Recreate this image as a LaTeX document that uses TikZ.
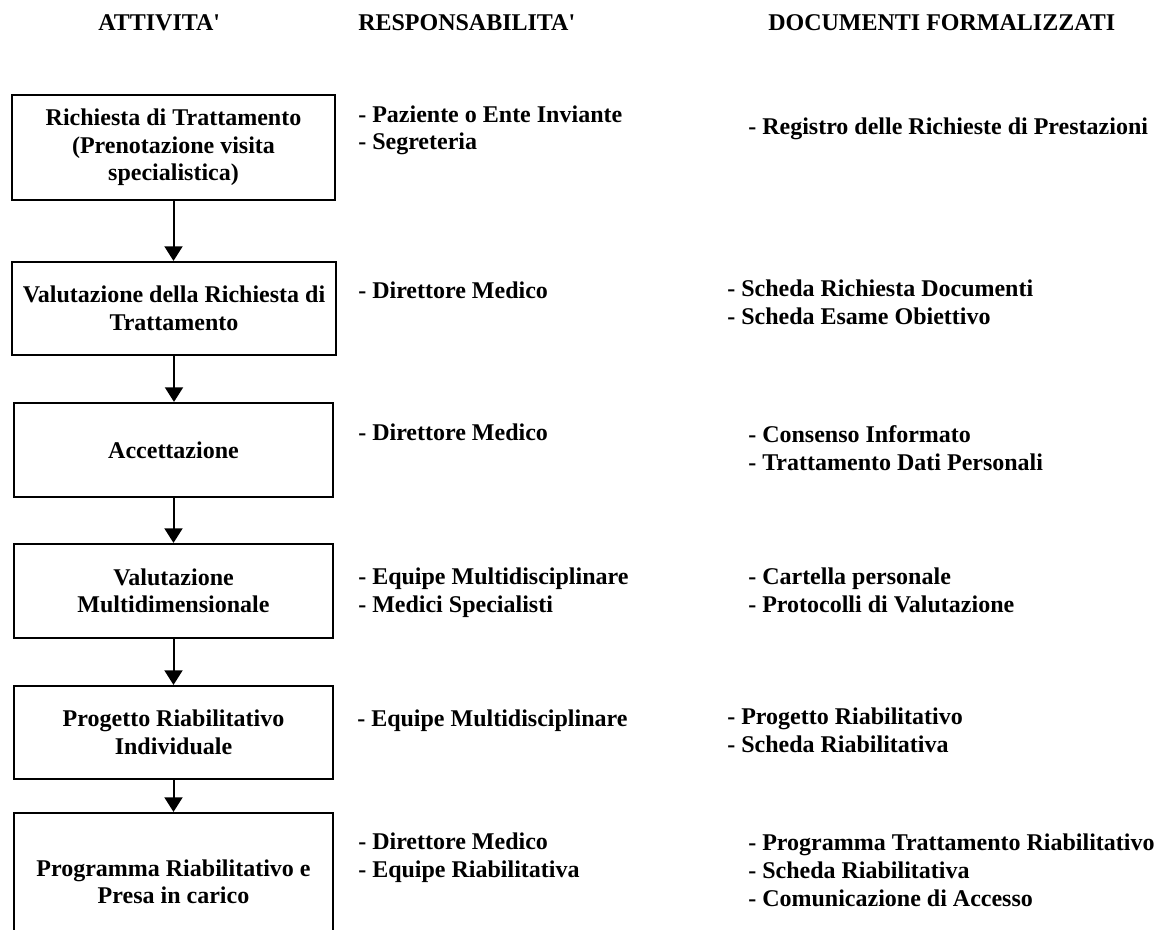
\documentclass[tikz,border=0pt]{standalone}
\usepackage{fontspec}
\setmainfont{Liberation Serif}
\usetikzlibrary{arrows.meta}
\tikzset{
  stepbox/.style={draw, line width=1.6pt, align=center, inner sep=0pt,
    font=\fontsize{18}{20.6}\selectfont\bfseries},
  item/.style={anchor=base west, inner sep=0pt,
    font=\fontsize{18}{21}\selectfont\bfseries},
  flow/.style={line width=1.5pt, -{Triangle[length=11pt,width=13.5pt]}}
}
\begin{document}
\begin{tikzpicture}[x=0.75pt,y=-0.75pt]
\useasboundingbox (0,0) rectangle (1157,930);
\clip (0,0) rectangle (1157,930);

% column headings
\node[item] (hA) at (98,31) {ATTIVITA\textquotesingle};
\node[item] (hR) at (358,31) {RESPONSABILITA\textquotesingle};
\node[item] (hD) at (768,31) {DOCUMENTI FORMALIZZATI};

% activity boxes
\node[stepbox, minimum width=242.25pt, minimum height=78.75pt] (b1) at (173.5,147.5)
  {Richiesta di Trattamento\\(Prenotazione visita\\specialistica)};
\node[stepbox, minimum width=243pt, minimum height=69.75pt] (b2) at (174,308.5)
  {Valutazione della Richiesta di\\Trattamento};
\node[stepbox, minimum width=239.25pt, minimum height=70.5pt] (b3) at (173.5,450)
  {Accettazione};
\node[stepbox, minimum width=239.25pt, minimum height=70.5pt] (b4) at (173.5,591)
  {Valutazione\\Multidimensionale};
\node[stepbox, minimum width=239.25pt, minimum height=69.75pt] (b5) at (173.5,732.5)
  {Progetto Riabilitativo\\Individuale};
\node[stepbox, minimum width=239.25pt, minimum height=103.5pt] (b6) at (173.5,882)
  {Programma Riabilitativo e\\Presa in carico};

% flow arrows
\draw[flow] (b1.south) -- (b1.south |- b2.north);
\draw[flow] (b2.south) -- (b2.south |- b3.north);
\draw[flow] (b3.south) -- (b3.south |- b4.north);
\draw[flow] (b4.south) -- (b4.south |- b5.north);
\draw[flow] (b5.south) -- (b5.south |- b6.north);

% responsibilities
\node[item] (r1a) at (358,123) {- Paziente o Ente Inviante};
\node[item] (r1b) at (358,150) {- Segreteria};
\node[item] (r2a) at (358,299) {- Direttore Medico};
\node[item] (r3a) at (358,441) {- Direttore Medico};
\node[item] (r4a) at (358,584) {- Equipe Multidisciplinare};
\node[item] (r4b) at (358,612) {- Medici Specialisti};
\node[item] (r5a) at (357,726) {- Equipe Multidisciplinare};
\node[item] (r6a) at (358,849) {- Direttore Medico};
\node[item] (r6b) at (358,877) {- Equipe Riabilitativa};

% formal documents
\node[item] (d1a) at (748,135) {- Registro delle Richieste di Prestazioni};
\node[item] (d2a) at (727,297) {- Scheda Richiesta Documenti};
\node[item] (d2b) at (727,325) {- Scheda Esame Obiettivo};
\node[item] (d3a) at (748,443) {- Consenso Informato};
\node[item] (d3b) at (748,470) {- Trattamento Dati Personali};
\node[item] (d4a) at (748,584) {- Cartella personale};
\node[item] (d4b) at (748,612) {- Protocolli di Valutazione};
\node[item] (d5a) at (727,724) {- Progetto Riabilitativo};
\node[item] (d5b) at (727,752) {- Scheda Riabilitativa};
\node[item] (d6a) at (748,850) {- Programma Trattamento Riabilitativo};
\node[item] (d6b) at (748,878) {- Scheda Riabilitativa};
\node[item] (d6c) at (748,906) {- Comunicazione di Accesso};
\end{tikzpicture}
\end{document}
